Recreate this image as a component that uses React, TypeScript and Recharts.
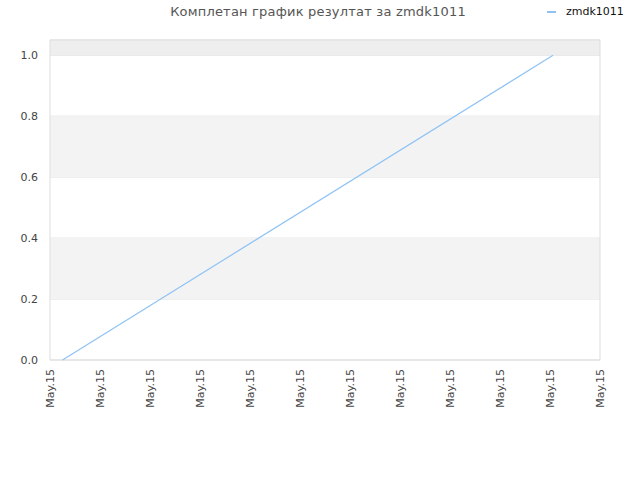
import React from "react";
import {
  LineChart,
  Line,
  XAxis,
  YAxis,
  CartesianGrid,
  ReferenceArea,
} from "recharts";

const seriesName = "zmdk1011";
const chartTitle = "Комплетан график резултат за zmdk1011";
// x in tick units (one tick per interval), y = result
const seriesX = [0.25, 10.06];
const seriesY = [0, 1];
const xTicks = [0, 1, 2, 3, 4, 5, 6, 7, 8, 9, 10, 11];
const xTickLabels = [
  "May.15", "May.15", "May.15", "May.15", "May.15", "May.15",
  "May.15", "May.15", "May.15", "May.15", "May.15", "May.15",
];
const yTicks = [0, 0.2, 0.4, 0.6, 0.8, 1.0];
const bands = [
  { y1: 0.2, y2: 0.4, fill: "#f3f3f3" },
  { y1: 0.6, y2: 0.8, fill: "#f3f3f3" },
  { y1: 1.0, y2: 1.05, fill: "#eeeeee" },
];

const data = seriesX.map((x, i) => ({ x, value: seriesY[i] }));

const FONT = "'DejaVu Sans', sans-serif";
const LINE_COLOR = "#8fc3f4";

function XTick(props: any) {
  const { x, y, payload } = props;
  const label = xTickLabels[payload.index] ?? "";
  return (
    <text
      x={0}
      y={0}
      dy="0.35em"
      textAnchor="end"
      transform={`translate(${x}, ${y + 1}) rotate(-90)`}
      fill="#444"
      fontSize={11}
      fontFamily={FONT}
    >
      {label}
    </text>
  );
}

export default function App() {
  return (
    <div style={{ position: "absolute", left: 0, top: 0, width: 640, height: 480, background: "#fff" }}>
      <div
        style={{
          position: "absolute",
          top: 4,
          left: 0,
          width: 636,
          textAlign: "center",
          fontFamily: FONT,
          fontSize: 13,
          color: "#555",
          letterSpacing: 0.2,
        }}
      >
        {chartTitle}
      </div>
      {/* легенда */}
      <div
        style={{
          position: "absolute",
          top: 5,
          left: 547,
          display: "flex",
          alignItems: "center",
          fontFamily: FONT,
          fontSize: 11,
          color: "#111",
        }}
      >
        <span
          style={{
            display: "inline-block",
            width: 9,
            height: 2,
            background: LINE_COLOR,
            marginRight: 10,
          }}
        />
        {seriesName}
      </div>
      <LineChart
        width={640}
        height={480}
        data={data}
        margin={{ top: 40, right: 40, bottom: 0, left: 0 }}
      >
        {bands.map((b, i) => (
          <ReferenceArea
            key={i}
            x1={0}
            x2={11}
            y1={b.y1}
            y2={b.y2}
            fill={b.fill}
            fillOpacity={1}
            stroke="none"
            ifOverflow="visible"
          />
        ))}
        <CartesianGrid vertical={false} stroke="#e2e2e2" />
        <ReferenceArea
          x1={0}
          x2={11}
          y1={0}
          y2={1.05}
          fill="none"
          stroke="#dddddd"
          strokeWidth={1}
          ifOverflow="visible"
        />
        <XAxis
          dataKey="x"
          type="number"
          domain={[0, 11]}
          ticks={xTicks}
          interval={0}
          height={120}
          axisLine={false}
          tickLine={false}
          tick={<XTick />}
        />
        <YAxis
          type="number"
          domain={[0, 1.05]}
          ticks={yTicks}
          width={50}
          axisLine={false}
          tickLine={false}
          tickSize={0}
          tickMargin={12}
          tickFormatter={(v: number) => v.toFixed(1)}
          tick={{ fill: "#444", fontSize: 11, fontFamily: FONT }}
        />
        <Line
          type="linear"
          dataKey="value"
          name={seriesName}
          stroke={LINE_COLOR}
          strokeWidth={1.2}
          dot={false}
          isAnimationActive={false}
        />
      </LineChart>
    </div>
  );
}
